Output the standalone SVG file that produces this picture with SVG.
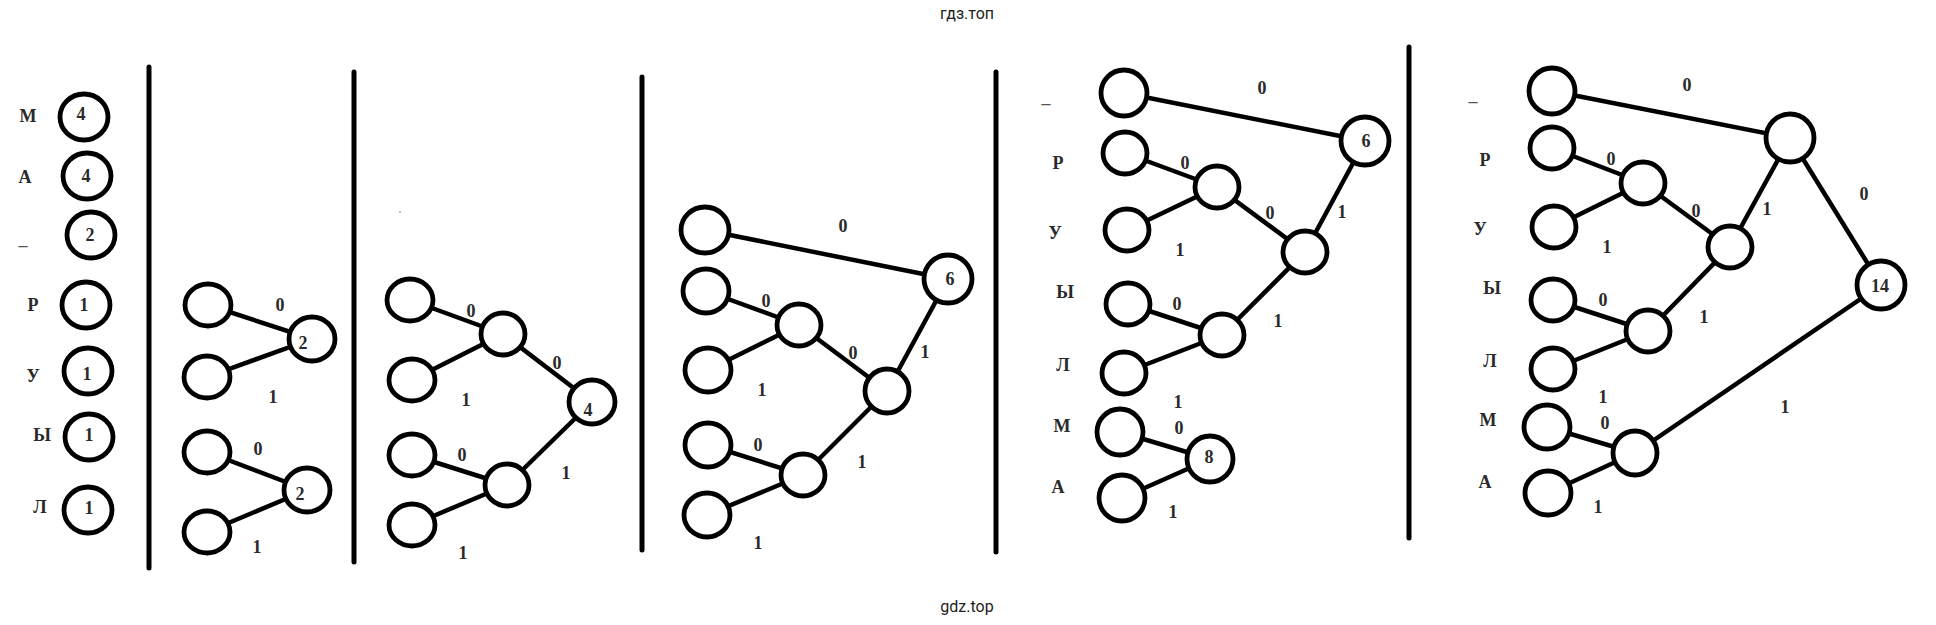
<svg xmlns="http://www.w3.org/2000/svg" width="1936" height="625" viewBox="0 0 1936 625">
<style>
.n{fill:#fff;stroke:#000;stroke-width:4.8}
.e{stroke:#000;stroke-width:4.5;stroke-linecap:round;fill:none}
.v{stroke:#000;stroke-width:5;stroke-linecap:round}
.t{font-family:"Liberation Serif","Times New Roman",serif;font-weight:bold;font-size:18px;fill:#2a2a2a;text-anchor:middle;dominant-baseline:central}
.u{font-family:"Liberation Serif","Times New Roman",serif;font-weight:bold;font-size:18px;fill:#555;text-anchor:middle}
.w{font-family:Roboto,"Noto Sans",sans-serif;font-size:16px;fill:#222;text-anchor:middle}
</style>
<rect width="1936" height="625" fill="#fff"/>
<text class="w" x="967" y="19">гдз.топ</text>
<text class="w" x="967" y="612">gdz.top</text>

<g id="dividers">
<line class="v" x1="149" y1="67" x2="149" y2="568"/>
<line class="v" x1="354" y1="72" x2="354" y2="562"/>
<line class="v" x1="642" y1="77" x2="642" y2="550"/>
<line class="v" x1="996" y1="72" x2="996" y2="552"/>
<line class="v" x1="1409" y1="47" x2="1409" y2="538"/>
</g>

<g id="connectors">
<!-- section 2 -->
<line class="e" x1="208" y1="305" x2="312" y2="339"/>
<line class="e" x1="207" y1="377" x2="312" y2="339"/>
<line class="e" x1="207" y1="452" x2="307" y2="490"/>
<line class="e" x1="207" y1="532" x2="307" y2="490"/>
<!-- section 3 -->
<line class="e" x1="410" y1="300" x2="503" y2="334"/>
<line class="e" x1="412" y1="380" x2="503" y2="334"/>
<line class="e" x1="503" y1="334" x2="592" y2="402"/>
<line class="e" x1="412" y1="455" x2="507" y2="485"/>
<line class="e" x1="412" y1="525" x2="507" y2="485"/>
<line class="e" x1="507" y1="485" x2="592" y2="402"/>
<!-- section 4 -->
<line class="e" x1="705" y1="230" x2="948" y2="279"/>
<line class="e" x1="706" y1="291" x2="799" y2="325"/>
<line class="e" x1="708" y1="370" x2="799" y2="325"/>
<line class="e" x1="799" y1="325" x2="887" y2="391"/>
<line class="e" x1="708" y1="445" x2="803" y2="475"/>
<line class="e" x1="707" y1="515" x2="803" y2="475"/>
<line class="e" x1="803" y1="475" x2="887" y2="391"/>
<line class="e" x1="887" y1="391" x2="948" y2="279"/>
<!-- section 5 -->
<line class="e" x1="1124" y1="93" x2="1365" y2="141"/>
<line class="e" x1="1125" y1="153" x2="1217" y2="187"/>
<line class="e" x1="1127" y1="230" x2="1217" y2="187"/>
<line class="e" x1="1217" y1="187" x2="1305" y2="252"/>
<line class="e" x1="1128" y1="304" x2="1222" y2="335"/>
<line class="e" x1="1124" y1="373" x2="1222" y2="335"/>
<line class="e" x1="1222" y1="335" x2="1305" y2="252"/>
<line class="e" x1="1305" y1="252" x2="1365" y2="141"/>
<line class="e" x1="1120" y1="432" x2="1210" y2="459"/>
<line class="e" x1="1122" y1="498" x2="1210" y2="459"/>
<!-- section 6 -->
<line class="e" x1="1552" y1="91" x2="1790" y2="138"/>
<line class="e" x1="1552" y1="148" x2="1643" y2="183"/>
<line class="e" x1="1554" y1="227" x2="1643" y2="183"/>
<line class="e" x1="1643" y1="183" x2="1730" y2="247"/>
<line class="e" x1="1553" y1="300" x2="1648" y2="331"/>
<line class="e" x1="1553" y1="369" x2="1648" y2="331"/>
<line class="e" x1="1648" y1="331" x2="1730" y2="247"/>
<line class="e" x1="1730" y1="247" x2="1790" y2="138"/>
<line class="e" x1="1790" y1="138" x2="1881" y2="285"/>
<line class="e" x1="1547" y1="427" x2="1635" y2="453"/>
<line class="e" x1="1548" y1="493" x2="1635" y2="453"/>
<line class="e" x1="1635" y1="453" x2="1881" y2="285"/>
</g>

<g id="edge-labels">
<text class="t" x="280" y="305">0</text>
<text class="t" x="273" y="397">1</text>
<text class="t" x="258" y="449">0</text>
<text class="t" x="257" y="547">1</text>

<text class="t" x="471" y="311">0</text>
<text class="t" x="466" y="400">1</text>
<text class="t" x="557" y="363">0</text>
<text class="t" x="566" y="473">1</text>
<text class="t" x="462" y="455">0</text>
<text class="t" x="463" y="553">1</text>

<text class="t" x="843" y="226">0</text>
<text class="t" x="766" y="301">0</text>
<text class="t" x="762" y="390">1</text>
<text class="t" x="853" y="353">0</text>
<text class="t" x="925" y="352">1</text>
<text class="t" x="758" y="445">0</text>
<text class="t" x="862" y="462">1</text>
<text class="t" x="758" y="543">1</text>

<text class="t" x="1262" y="88">0</text>
<text class="t" x="1185" y="163">0</text>
<text class="t" x="1180" y="250">1</text>
<text class="t" x="1270" y="213">0</text>
<text class="t" x="1342" y="212">1</text>
<text class="t" x="1177" y="304">0</text>
<text class="t" x="1278" y="321">1</text>
<text class="t" x="1178" y="402">1</text>
<text class="t" x="1179" y="428">0</text>
<text class="t" x="1173" y="512">1</text>

<text class="t" x="1687" y="85">0</text>
<text class="t" x="1611" y="159">0</text>
<text class="t" x="1607" y="247">1</text>
<text class="t" x="1696" y="211">0</text>
<text class="t" x="1767" y="209">1</text>
<text class="t" x="1864" y="194">0</text>
<text class="t" x="1603" y="300">0</text>
<text class="t" x="1704" y="317">1</text>
<text class="t" x="1603" y="397">1</text>
<text class="t" x="1605" y="423">0</text>
<text class="t" x="1785" y="407">1</text>
<text class="t" x="1598" y="507">1</text>
</g>

<g id="letters">
<text class="t" x="28" y="116">М</text>
<text class="t" x="25" y="177">А</text>
<text class="u" x="23" y="245">_</text>
<text class="t" x="33" y="305">Р</text>
<text class="t" x="33" y="376">У</text>
<text class="t" x="42" y="435">Ы</text>
<text class="t" x="40" y="507">Л</text>

<text class="u" x="1046" y="103">_</text>
<text class="t" x="1058" y="163">Р</text>
<text class="t" x="1055" y="233">У</text>
<text class="t" x="1065" y="292">Ы</text>
<text class="t" x="1063" y="365">Л</text>
<text class="t" x="1062" y="426">М</text>
<text class="t" x="1058" y="487">А</text>

<text class="u" x="1473" y="101">_</text>
<text class="t" x="1485" y="160">Р</text>
<text class="t" x="1480" y="229">У</text>
<text class="t" x="1492" y="288">Ы</text>
<text class="t" x="1490" y="361">Л</text>
<text class="t" x="1488" y="420">М</text>
<text class="t" x="1485" y="482">А</text>
</g>

<g id="s1-nodes">
<g id="s1-m"><ellipse class="n" cx="84" cy="117" rx="24" ry="23"/><text class="t" x="81" y="114">4</text></g>
<g id="s1-a"><ellipse class="n" cx="87" cy="176" rx="24" ry="23"/><text class="t" x="86" y="176">4</text></g>
<g id="s1-sp"><ellipse class="n" cx="91" cy="235" rx="24" ry="23"/><text class="t" x="90" y="235">2</text></g>
<g id="s1-r"><ellipse class="n" cx="86" cy="305" rx="24" ry="23"/><text class="t" x="84" y="305">1</text></g>
<g id="s1-u"><ellipse class="n" cx="88" cy="371" rx="24" ry="23"/><text class="t" x="87" y="374">1</text></g>
<g id="s1-y"><ellipse class="n" cx="89" cy="437" rx="24" ry="23"/><text class="t" x="89" y="435">1</text></g>
<g id="s1-l"><ellipse class="n" cx="88" cy="510" rx="24" ry="23"/><text class="t" x="89" y="508">1</text></g>
</g>

<g id="s2-nodes">
<g id="s2-a"><ellipse class="n" cx="208" cy="305" rx="23" ry="21"/></g>
<g id="s2-b"><ellipse class="n" cx="207" cy="377" rx="23" ry="21"/></g>
<g id="s2-n1"><ellipse class="n" cx="312" cy="339" rx="23" ry="22"/><text class="t" x="303" y="343">2</text></g>
<g id="s2-c"><ellipse class="n" cx="207" cy="452" rx="23" ry="21"/></g>
<g id="s2-d"><ellipse class="n" cx="207" cy="532" rx="23" ry="21"/></g>
<g id="s2-n2"><ellipse class="n" cx="307" cy="490" rx="23" ry="22"/><text class="t" x="300" y="494">2</text></g>
</g>

<g id="s3-nodes">
<g id="s3-a"><ellipse class="n" cx="410" cy="300" rx="23" ry="21"/></g>
<g id="s3-b"><ellipse class="n" cx="412" cy="380" rx="23" ry="21"/></g>
<g id="s3-n1"><ellipse class="n" cx="503" cy="334" rx="22" ry="21"/></g>
<g id="s3-c"><ellipse class="n" cx="412" cy="455" rx="23" ry="21"/></g>
<g id="s3-d"><ellipse class="n" cx="412" cy="525" rx="23" ry="21"/></g>
<g id="s3-n2"><ellipse class="n" cx="507" cy="485" rx="22" ry="21"/></g>
<g id="s3-n3"><ellipse class="n" cx="592" cy="402" rx="23" ry="22"/><text class="t" x="588" y="410">4</text></g>
<circle cx="400" cy="212" r="1" fill="#aaa"/>
</g>

<g id="s4-nodes">
<g id="s4-a"><ellipse class="n" cx="705" cy="230" rx="24" ry="23"/></g>
<g id="s4-b"><ellipse class="n" cx="706" cy="291" rx="23" ry="22"/></g>
<g id="s4-c"><ellipse class="n" cx="708" cy="370" rx="23" ry="22"/></g>
<g id="s4-d"><ellipse class="n" cx="708" cy="445" rx="23" ry="22"/></g>
<g id="s4-e"><ellipse class="n" cx="707" cy="515" rx="23" ry="22"/></g>
<g id="s4-n1"><ellipse class="n" cx="799" cy="325" rx="22" ry="21"/></g>
<g id="s4-n2"><ellipse class="n" cx="803" cy="475" rx="22" ry="21"/></g>
<g id="s4-n3"><ellipse class="n" cx="887" cy="391" rx="22" ry="22"/></g>
<g id="s4-n4"><ellipse class="n" cx="948" cy="279" rx="24" ry="24"/><text class="t" x="950" y="279">6</text></g>
</g>

<g id="s5-nodes">
<g id="s5-sp"><ellipse class="n" cx="1124" cy="93" rx="23" ry="23"/></g>
<g id="s5-r"><ellipse class="n" cx="1125" cy="153" rx="22" ry="21"/></g>
<g id="s5-u"><ellipse class="n" cx="1127" cy="230" rx="22" ry="21"/></g>
<g id="s5-y"><ellipse class="n" cx="1128" cy="304" rx="22" ry="21"/></g>
<g id="s5-l"><ellipse class="n" cx="1124" cy="373" rx="22" ry="21"/></g>
<g id="s5-m"><ellipse class="n" cx="1120" cy="432" rx="23" ry="23"/></g>
<g id="s5-a"><ellipse class="n" cx="1122" cy="498" rx="23" ry="23"/></g>
<g id="s5-n1"><ellipse class="n" cx="1217" cy="187" rx="22" ry="21"/></g>
<g id="s5-n2"><ellipse class="n" cx="1305" cy="252" rx="22" ry="21"/></g>
<g id="s5-n3"><ellipse class="n" cx="1222" cy="335" rx="22" ry="21"/></g>
<g id="s5-n4"><ellipse class="n" cx="1365" cy="141" rx="24" ry="24"/><text class="t" x="1366" y="141">6</text></g>
<g id="s5-n5"><ellipse class="n" cx="1210" cy="459" rx="23" ry="23"/><text class="t" x="1209" y="457">8</text></g>
</g>

<g id="s6-nodes">
<g id="s6-sp"><ellipse class="n" cx="1552" cy="91" rx="23" ry="23"/></g>
<g id="s6-r"><ellipse class="n" cx="1552" cy="148" rx="22" ry="21"/></g>
<g id="s6-u"><ellipse class="n" cx="1554" cy="227" rx="22" ry="21"/></g>
<g id="s6-y"><ellipse class="n" cx="1553" cy="300" rx="22" ry="21"/></g>
<g id="s6-l"><ellipse class="n" cx="1553" cy="369" rx="22" ry="21"/></g>
<g id="s6-m"><ellipse class="n" cx="1547" cy="427" rx="23" ry="22"/></g>
<g id="s6-a"><ellipse class="n" cx="1548" cy="493" rx="23" ry="22"/></g>
<g id="s6-n1"><ellipse class="n" cx="1643" cy="183" rx="22" ry="21"/></g>
<g id="s6-n2"><ellipse class="n" cx="1730" cy="247" rx="22" ry="21"/></g>
<g id="s6-n3"><ellipse class="n" cx="1648" cy="331" rx="22" ry="21"/></g>
<g id="s6-n4"><ellipse class="n" cx="1790" cy="138" rx="24" ry="24"/></g>
<g id="s6-n5"><ellipse class="n" cx="1635" cy="453" rx="22" ry="22"/></g>
<g id="s6-n6"><ellipse class="n" cx="1881" cy="285" rx="24" ry="24"/><text class="t" x="1880" y="286">14</text></g>
</g>
</svg>
